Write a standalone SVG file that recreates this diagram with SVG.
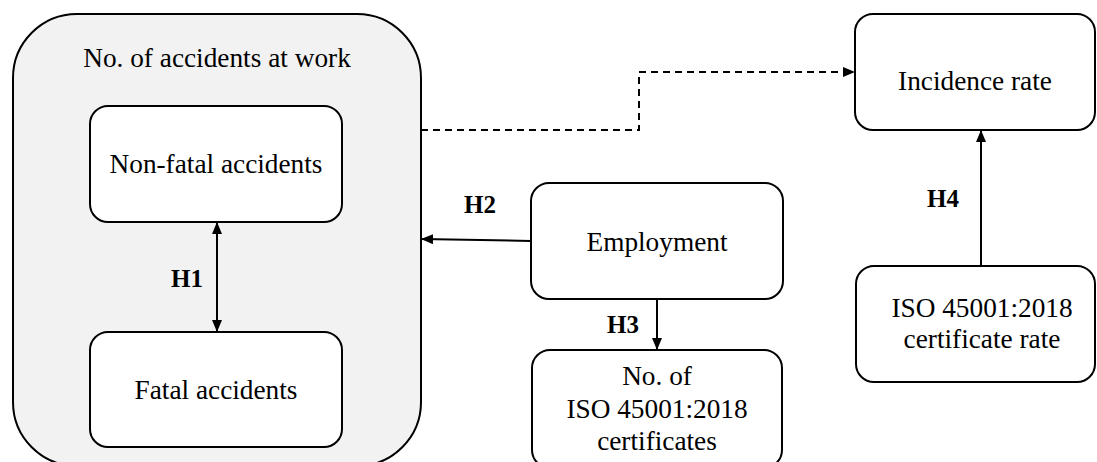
<svg xmlns="http://www.w3.org/2000/svg" width="1097" height="462" viewBox="0 0 1097 462">
<style>
.box{fill:#ffffff;stroke:#000;stroke-width:2}
.outer{fill:#f2f2f2;stroke:#000;stroke-width:2}
.t{font-family:'Liberation Serif','Times New Roman',Times,'DejaVu Serif',serif;font-size:27.3px;fill:#000;text-anchor:middle}
.h{font-family:'Liberation Serif','Times New Roman',Times,'DejaVu Serif',serif;font-size:25px;font-weight:bold;fill:#000;text-anchor:middle}
.c{stroke:#000;stroke-width:2;fill:none}
.d{stroke-dasharray:7 5}
</style>
<defs>
<marker id="ah" viewBox="0 0 12 10" refX="12" refY="5" markerWidth="12" markerHeight="10" markerUnits="userSpaceOnUse" orient="auto-start-reverse">
<path d="M0,0 L12,5 L0,10 z" fill="#000"/>
</marker>
</defs>
<g id="accidents">
<rect class="outer" x="13" y="14" width="408" height="452" rx="64" ry="64"/>
<text class="t" x="217" y="67">No. of accidents at work</text>
</g>
<g id="nonfatal">
<rect class="box" x="90" y="106" width="252" height="116" rx="18" ry="18"/>
<text class="t" x="216" y="173">Non-fatal accidents</text>
</g>
<g id="fatal">
<rect class="box" x="90" y="332" width="252" height="115" rx="18" ry="18"/>
<text class="t" x="216" y="399">Fatal accidents</text>
</g>
<g id="incidence">
<rect class="box" x="855" y="14" width="240" height="116" rx="18" ry="18"/>
<text class="t" x="975" y="90">Incidence rate</text>
</g>
<g id="employment">
<rect class="box" x="531" y="183" width="252" height="116" rx="18" ry="18"/>
<text class="t" x="657" y="251">Employment</text>
</g>
<g id="isocerts">
<rect class="box" x="532" y="350" width="250" height="118" rx="18" ry="18"/>
<text class="t" x="657" y="385">No. of</text>
<text class="t" x="657" y="418">ISO 45001:2018</text>
<text class="t" x="657" y="450">certificates</text>
</g>
<g id="isorate">
<rect class="box" x="856" y="266" width="239" height="116" rx="18" ry="18"/>
<text class="t" x="982" y="317">ISO 45001:2018</text>
<text class="t" x="982" y="348">certificate rate</text>
</g>
<g id="connectors">
<line class="c" x1="217" y1="222" x2="217" y2="332" marker-start="url(#ah)" marker-end="url(#ah)"/>
<text class="h" x="187" y="287">H1</text>
<polyline class="c d" points="421,130 639,130 639,72 855,72" marker-end="url(#ah)"/>
<line class="c" x1="531" y1="241" x2="421" y2="239" marker-end="url(#ah)"/>
<text class="h" x="480" y="213">H2</text>
<line class="c" x1="657" y1="299" x2="657" y2="350" marker-end="url(#ah)"/>
<text class="h" x="623" y="333">H3</text>
<line class="c" x1="981" y1="266" x2="981" y2="130" marker-end="url(#ah)"/>
<text class="h" x="943" y="207">H4</text>
</g>
</svg>
